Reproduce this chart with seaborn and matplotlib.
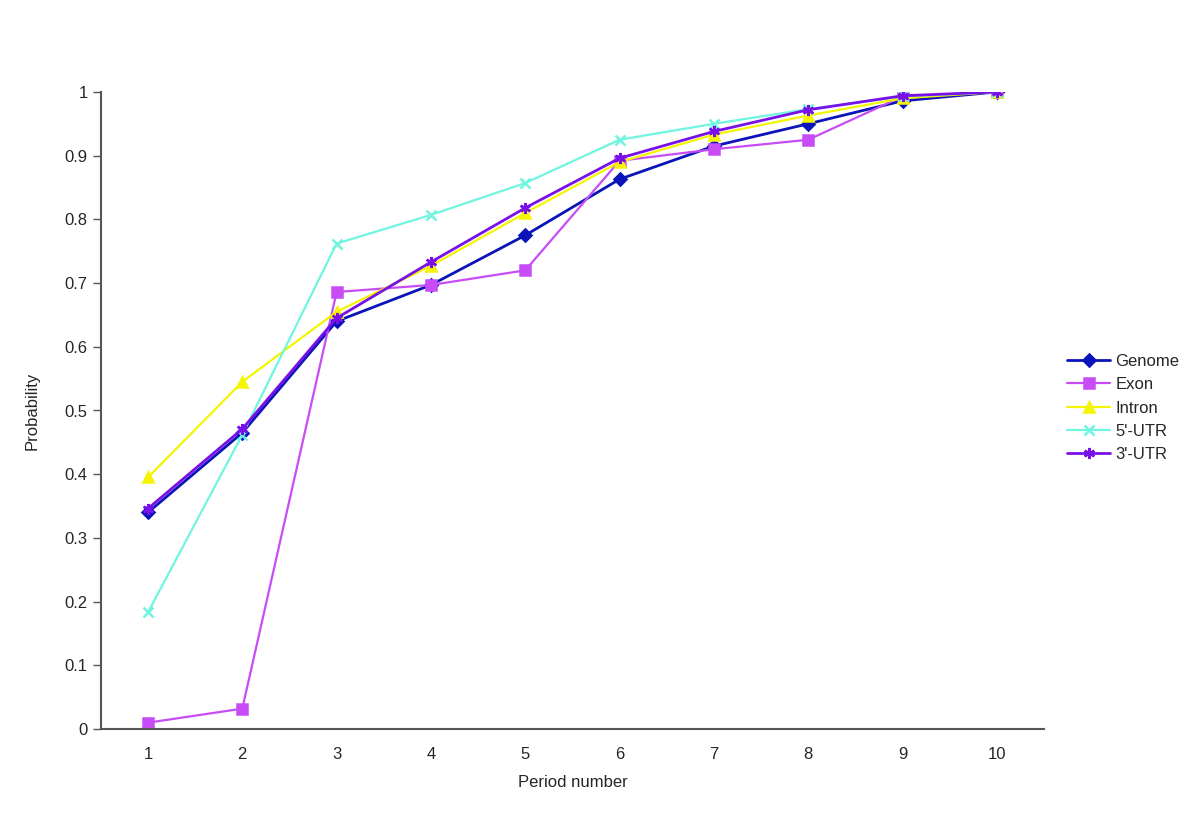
import pandas as pd
import matplotlib.pyplot as plt
import seaborn as sns
from matplotlib.ticker import FixedLocator, NullFormatter

# значения
periods = [1, 2, 3, 4, 5, 6, 7, 8, 9, 10]
genome = [0.340, 0.465, 0.640, 0.697, 0.775, 0.863, 0.915, 0.950, 0.986, 1.0]
exon = [0.010, 0.032, 0.686, 0.697, 0.720, 0.892, 0.910, 0.925, 0.993, 1.0]
intron = [0.395, 0.545, 0.655, 0.727, 0.810, 0.890, 0.933, 0.963, 0.990, 1.0]
utr5 = [0.183, 0.462, 0.762, 0.807, 0.857, 0.925, 0.950, 0.973, 0.993, 1.0]
utr3 = [0.346, 0.471, 0.645, 0.733, 0.818, 0.896, 0.938, 0.972, 0.994, 1.0]

series = ["Genome", "Exon", "Intron", "5'-UTR", "3'-UTR"]
values = [genome, exon, intron, utr5, utr3]

df = pd.DataFrame({
    "period": periods * len(series),
    "prob": [v for vals in values for v in vals],
    "region": [s for s in series for _ in periods],
})

colors = {"Genome": "#0a14b8", "Exon": "#c84cf5", "Intron": "#f5f500",
          "5'-UTR": "#6ff5e0", "3'-UTR": "#7a10e8"}
markers = {"Genome": "D", "Exon": "s", "Intron": "^", "5'-UTR": "x", "3'-UTR": (6, 2, 0)}
widths = {"Genome": 2.0, "Exon": 1.6, "Intron": 1.6, "5'-UTR": 1.6, "3'-UTR": 2.0}
msizes = {"Genome": 6, "Exon": 7, "Intron": 7, "5'-UTR": 7, "3'-UTR": 8}

sns.set_style("white")
plt.rcParams['font.family'] = ['Liberation Sans', 'DejaVu Sans']

fig = plt.figure(figsize=(12, 8.21), dpi=100)
ax = fig.add_axes([0.084, 0.112, 0.786, 0.776])

for name in series:
    sub = df[df["region"] == name]
    sns.lineplot(data=sub, x="period", y="prob", ax=ax, color=colors[name],
                 marker=markers[name], markersize=msizes[name], linewidth=widths[name],
                 markeredgecolor=colors[name], markeredgewidth=1.8, label=name)

ax.set_xlim(0.5, 10.5)
ax.set_ylim(0, 1)
ax.set_xticks(periods)
ax.set_xticklabels([str(p) for p in periods], fontsize=12)
ax.xaxis.set_minor_locator(FixedLocator([p + 0.5 for p in range(0, 11)]))
ax.xaxis.set_minor_formatter(NullFormatter())
ax.tick_params(axis='x', which='major', length=0, pad=13)
ax.tick_params(axis='x', which='minor', length=6, width=1, color='#555555', direction='out')
ax.set_yticks([i / 10 for i in range(11)])
ax.set_yticklabels(["0"] + [f"{i/10:.1f}" for i in range(1, 10)] + ["1"], fontsize=12)
ax.tick_params(axis='y', length=6, width=1, color='#555555', direction='out', left=True)

for s in ['top', 'right']:
    ax.spines[s].set_visible(False)
for s in ['left', 'bottom']:
    ax.spines[s].set_color('#555555')
    ax.spines[s].set_linewidth(1.5)

ax.set_xlabel("Period number", fontsize=12, labelpad=9)
ax.set_ylabel("Probability", fontsize=12, labelpad=18)

handles, labels = ax.get_legend_handles_labels()
ax.legend(handles, labels, loc='center left', bbox_to_anchor=(1052 / 1200, 1 - 408 / 821),
          bbox_transform=fig.transFigure, frameon=False, fontsize=12,
          handlelength=2.6, handletextpad=0.3, labelspacing=0.5)

plt.savefig('out.png', dpi=100)
